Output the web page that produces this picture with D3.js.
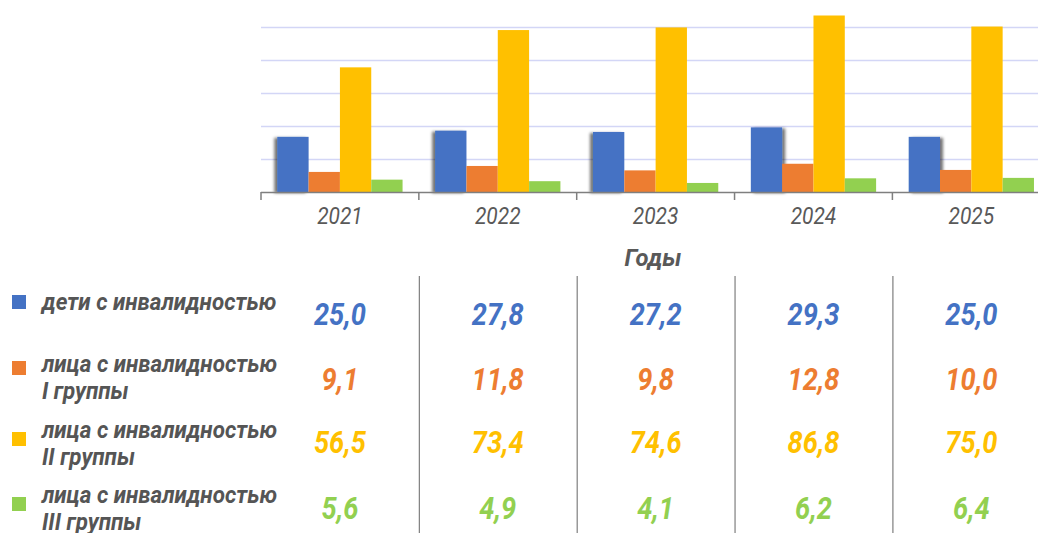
<!DOCTYPE html>
<html>
<head lang="ru">
    <meta charset="UTF-8">
    <title></title>
    <script src="https://cdn.jsdelivr.net/npm/d3@7"></script>
    <style>
        body{margin:0;background:#fff;}
        text{font-family:Roboto,"Noto Sans",sans-serif;font-style:italic;}
    </style>
</head>
<body>
<script>
    // данные
    var years=["2021","2022","2023","2024","2025"];
    var series=["дети с инвалидностью","лица с инвалидностью I группы","лица с инвалидностью II группы","лица с инвалидностью III группы"];
    var legendLines=[["дети с инвалидностью"],["лица с инвалидностью","I группы"],["лица с инвалидностью","II группы"],["лица с инвалидностью","III группы"]];
    var children=[25.0,27.8,27.2,29.3,25.0];
    var group1=[9.1,11.8,9.8,12.8,10.0];
    var group2=[56.5,73.4,74.6,86.8,75.0];
    var group3=[5.6,4.9,4.1,6.2,6.4];
    var gridTicks=[15,30,45,60,75];
    var colors=["#4472C4","#ED7D31","#FFC000","#92D050"];
    var values=[children,group1,group2,group3];

    var W=1038,H=533;
    var svg=d3.select("body").append("svg").attr("width",W).attr("height",H);

    var defs=svg.append("defs");
    [["shL",-3],["shR",3]].forEach(function(s){
        defs.append("filter").attr("id",s[0]).attr("x","-30%").attr("y","-10%").attr("width","160%").attr("height","120%")
            .append("feDropShadow").attr("dx",s[1]).attr("dy",1).attr("stdDeviation",1.8)
            .attr("flood-color","#000").attr("flood-opacity",0.55);
    });

    var x=d3.scaleBand().domain(years).range([261,261+5*157.85]);
    var xs=d3.scaleBand().domain(d3.range(4)).range([0,x.bandwidth()]).paddingOuter(0.52);
    var y=d3.scaleLinear().domain([0,80]).range([192,15.5]).clamp(true);

    // сетка
    svg.append("g").selectAll("line").data(gridTicks).enter().append("line")
        .attr("x1",261).attr("x2",W)
        .attr("y1",function(d){return Math.round(y(d))+0.5;})
        .attr("y2",function(d){return Math.round(y(d))+0.5;})
        .style("stroke","#d3d6f6").style("stroke-width",1.6);

    // столбцы
    var rows=[];
    years.forEach(function(yr,i){
        values.forEach(function(v,k){rows.push({year:yr,i:i,k:k,v:v[i]});});
    });
    svg.append("g").selectAll("rect").data(rows).enter().append("rect")
        .attr("x",function(d){return x(d.year)+xs(d.k);})
        .attr("width",xs.bandwidth())
        .attr("y",function(d){return y(d.v);})
        .attr("height",function(d){return y(0)-y(d.v);})
        .attr("filter",function(d){return d.k===0?(d.i<3?"url(#shL)":"url(#shR)"):null;})
        .style("fill",function(d){return colors[d.k];});

    // ось X
    var axis=svg.append("g");
    axis.append("line").attr("x1",261).attr("x2",W).attr("y1",192.5).attr("y2",192.5)
        .style("stroke","#7f7f7f").style("stroke-width",1.5);
    axis.selectAll(".tick").data(years).enter().append("line")
        .attr("x1",function(d){return x(d);}).attr("x2",function(d){return x(d);})
        .attr("y1",192).attr("y2",200)
        .style("stroke","#7f7f7f").style("stroke-width",1.5);

    // сжатие шрифта (в оригинале узкий шрифт): коэффициент по эталонной строке
    function condense(sel,refNode,target){
        var k=target/refNode.getComputedTextLength();
        sel.each(function(){
            var w=this.getComputedTextLength();
            d3.select(this).attr("textLength",w*k).attr("lengthAdjust","spacingAndGlyphs");
        });
    }

    var yearText=svg.append("g").selectAll("text").data(years).enter().append("text")
        .attr("x",function(d){return x(d)+x.bandwidth()/2;})
        .attr("y",224)
        .attr("text-anchor","middle")
        .style("font-size","23px").style("fill","#595959")
        .text(function(d){return d;});
    condense(yearText,yearText.node(),45.6);

    var title=svg.append("text").attr("x",653).attr("y",266).attr("text-anchor","middle")
        .style("font-size","24px").style("font-weight","bold").style("fill","#595959")
        .text("Годы");
    condense(title,title.node(),57);

    // таблица
    svg.append("g").selectAll("line").data(years.slice(1)).enter().append("line")
        .attr("x1",function(d){return x(d)+0.5;}).attr("x2",function(d){return x(d)+0.5;})
        .attr("y1",276).attr("y2",H)
        .style("stroke","#7f7f7f").style("stroke-width",1.2);

    var rowBase=[325,390,453,519];
    var legTop=[295,361,432,497];
    var leg=svg.append("g");
    leg.selectAll("rect").data(series).enter().append("rect")
        .attr("x",12).attr("y",function(d,i){return legTop[i];})
        .attr("width",14).attr("height",14)
        .style("fill",function(d,i){return colors[i];});
    var legText=leg.selectAll("text").data(legendLines).enter().append("text")
        .attr("y",function(d,i){return [310,372,438,503][i];})
        .style("font-size","23px").style("font-weight","bold").style("fill","#555555");
    var spans=legText.selectAll("tspan").data(function(d){return d;}).enter().append("tspan")
        .attr("x",42).attr("dy",function(d,j){return j?27:0;})
        .text(function(d){return d;});
    condense(spans,spans.filter(function(d){return d==="лица с инвалидностью";}).node(),235);

    var cells=svg.append("g").selectAll("text").data(rows).enter().append("text")
        .attr("x",function(d){return x(d.year)+x.bandwidth()/2;})
        .attr("y",function(d){return rowBase[d.k];})
        .attr("text-anchor","middle")
        .style("font-size","32px").style("font-weight","bold")
        .style("fill",function(d){return colors[d.k];})
        .text(function(d){return d3.format(".1f")(d.v).replace(".",",");});
    condense(cells,cells.node(),52);
</script>
</body>
</html>
